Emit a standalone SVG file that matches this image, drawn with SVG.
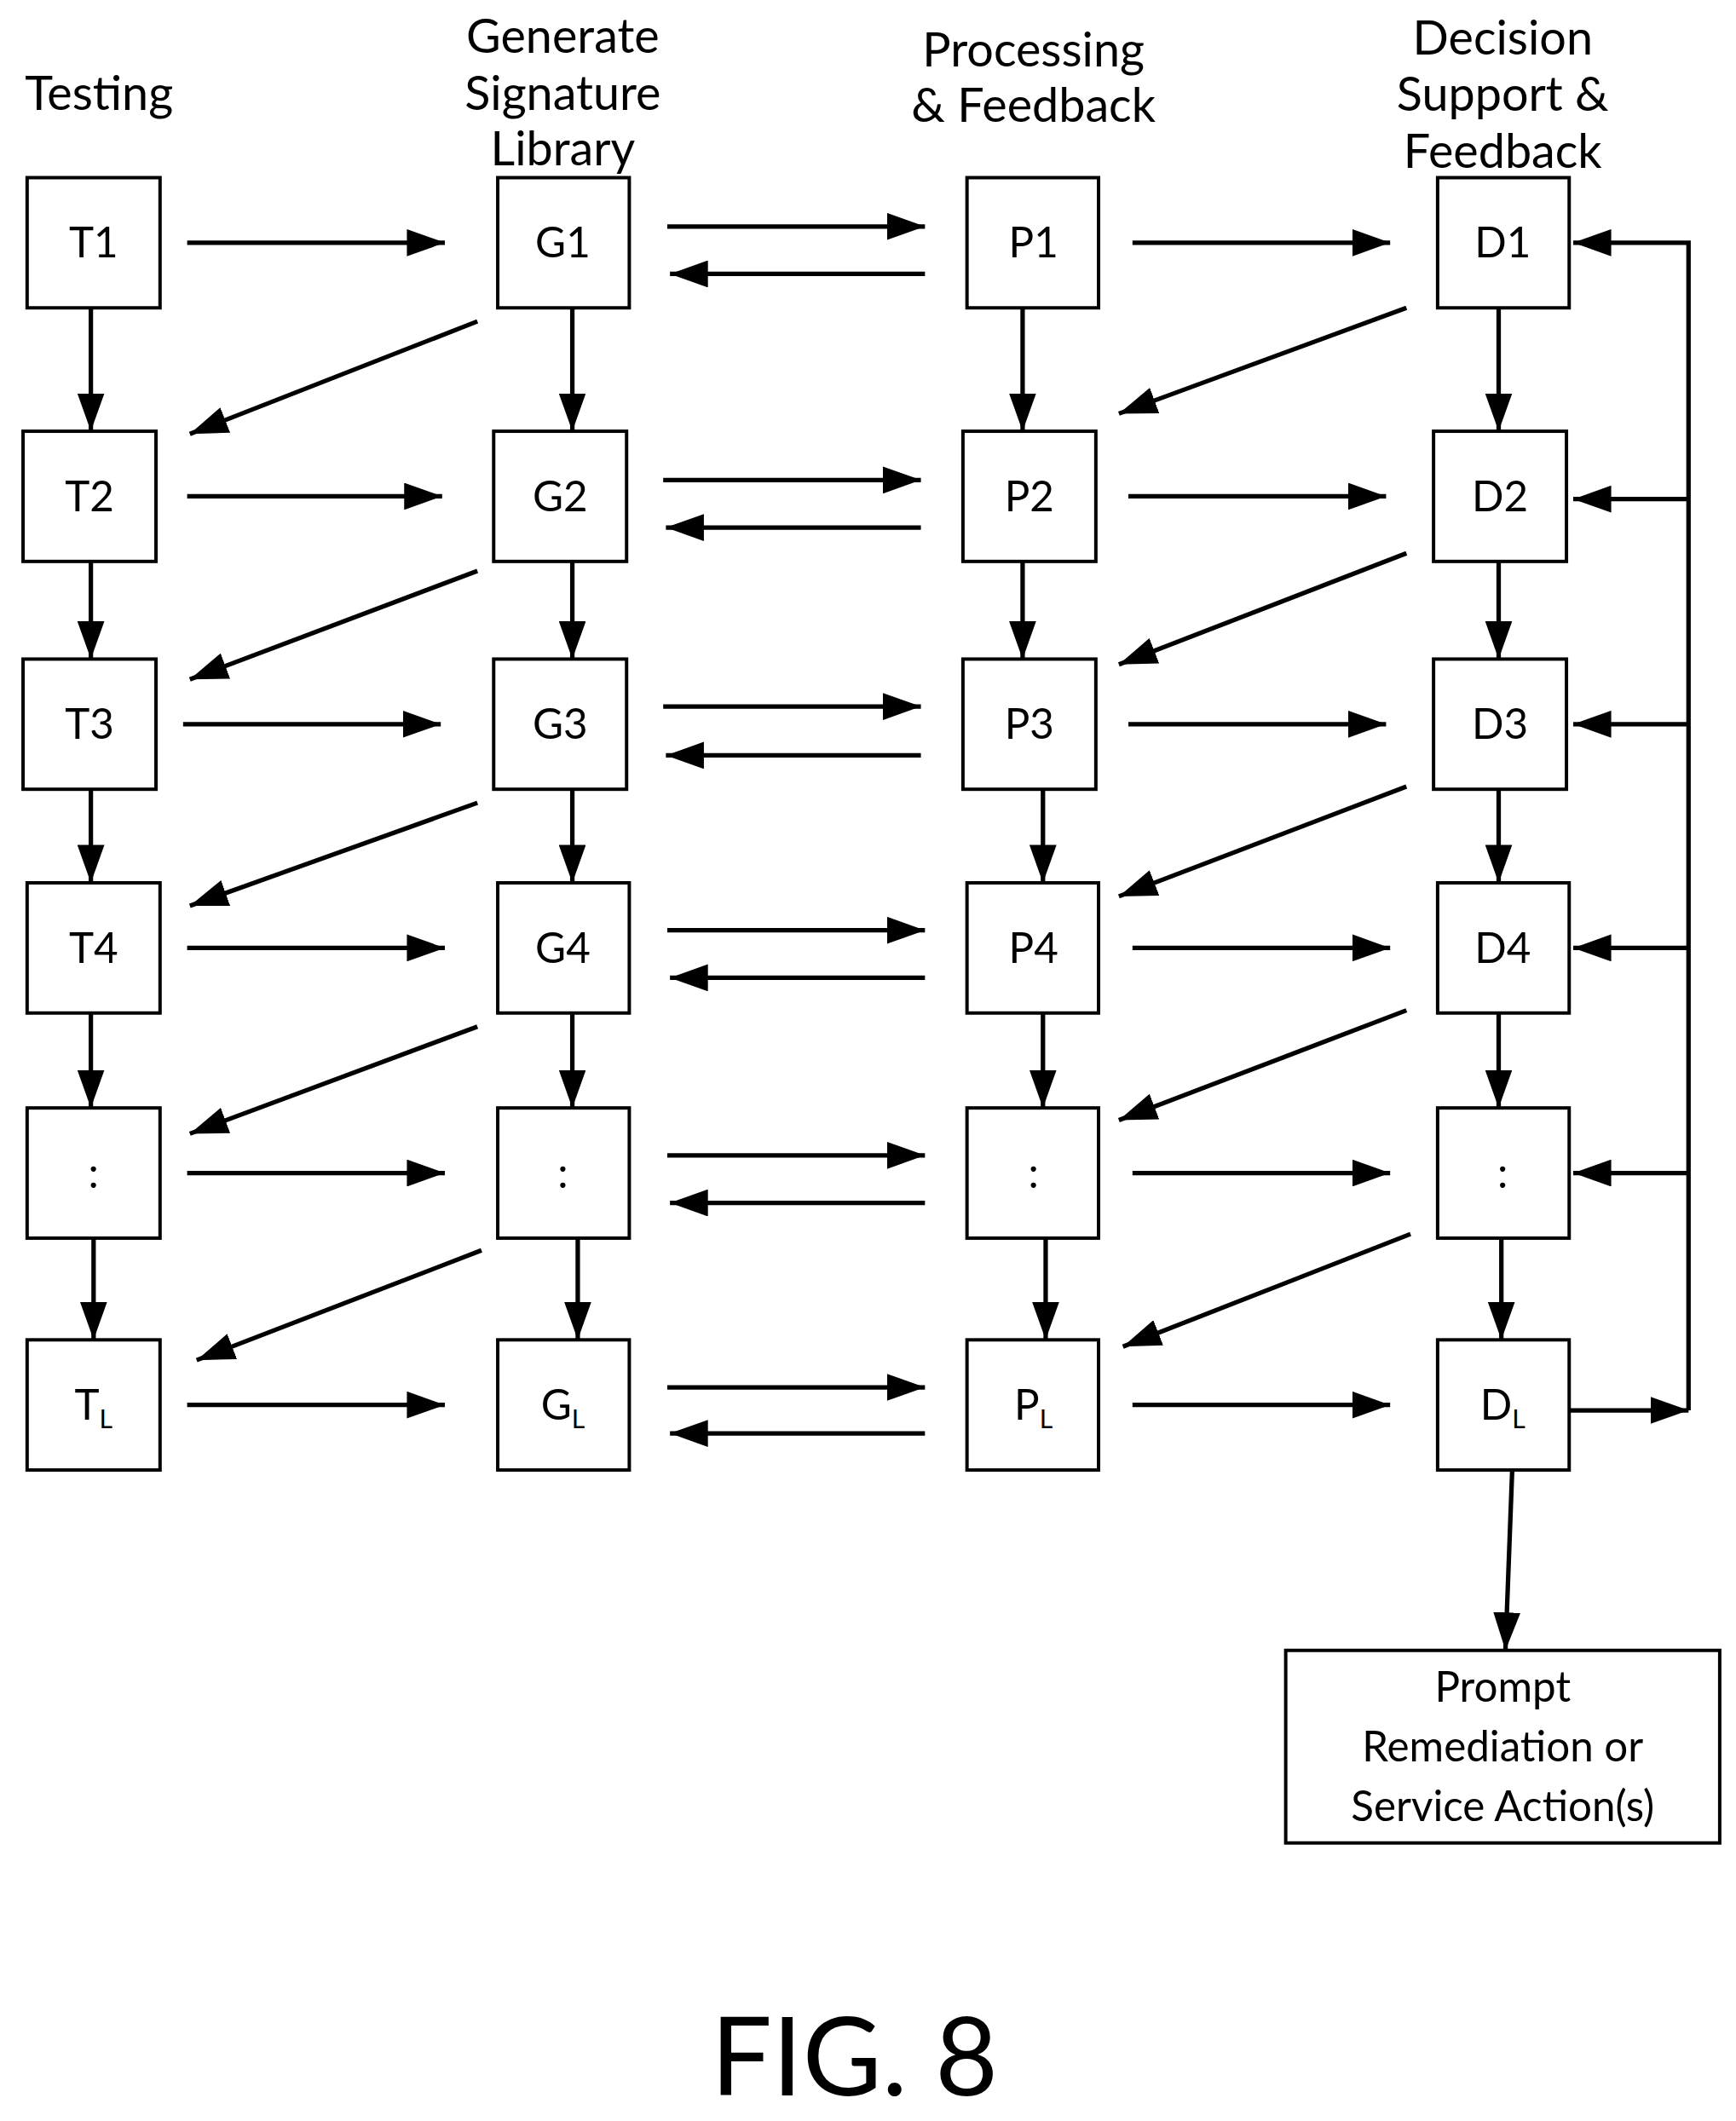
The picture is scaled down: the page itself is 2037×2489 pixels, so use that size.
<svg xmlns="http://www.w3.org/2000/svg" width="2037" height="2489" viewBox="0 0 2037 2489">
<defs>
<marker id="ah" markerUnits="userSpaceOnUse" markerWidth="30" markerHeight="20" refX="28" refY="10" orient="auto"><path d="M0,0 L28,10 L0,20 Z" fill="#000"/></marker>
<style>
.b{fill:#fff;stroke:#000;stroke-width:2.5}
.t{font-family:Lato,"Liberation Sans",sans-serif;fill:#000;text-anchor:middle}
.h{font-size:35px}
.n{font-size:31px}
.c line,.c path{stroke:#000;stroke-width:3.3;fill:none;marker-end:url(#ah)}
</style>
</defs>
<rect width="2037" height="2489" fill="#fff"/>
<g transform="scale(1.5914)">
<g id="headers" class="t h">
<text x="73" y="81">Testing</text>
<text x="415" y="39">Generate</text><text x="415" y="81">Signature</text><text x="415" y="122">Library</text>
<text x="762" y="49">Processing</text><text x="762" y="90">&amp; Feedback</text>
<text x="1108" y="40">Decision</text><text x="1108" y="82">Support &amp;</text><text x="1108" y="124">Feedback</text>
</g>
<g class="c" id="connectors">
<line x1="138" y1="179" x2="328" y2="179"/><line x1="138" y1="366" x2="326" y2="366"/><line x1="135" y1="534" x2="325" y2="534"/><line x1="138" y1="699" x2="328" y2="699"/><line x1="138" y1="865" x2="328" y2="865"/><line x1="138" y1="1036" x2="328" y2="1036"/>
<line x1="492" y1="167" x2="682" y2="167"/><line x1="682" y1="202" x2="494" y2="202"/>
<line x1="489" y1="354" x2="679" y2="354"/><line x1="679" y1="389" x2="491" y2="389"/>
<line x1="489" y1="521" x2="679" y2="521"/><line x1="679" y1="557" x2="491" y2="557"/>
<line x1="492" y1="686" x2="682" y2="686"/><line x1="682" y1="721" x2="494" y2="721"/>
<line x1="492" y1="852" x2="682" y2="852"/><line x1="682" y1="887" x2="494" y2="887"/>
<line x1="492" y1="1023" x2="682" y2="1023"/><line x1="682" y1="1057" x2="494" y2="1057"/>
<line x1="835" y1="179" x2="1025" y2="179"/><line x1="832" y1="366" x2="1022" y2="366"/><line x1="832" y1="534" x2="1022" y2="534"/><line x1="835" y1="699" x2="1025" y2="699"/><line x1="835" y1="865" x2="1025" y2="865"/><line x1="835" y1="1036" x2="1025" y2="1036"/>
<line x1="67" y1="227" x2="67" y2="318"/><line x1="67" y1="414" x2="67" y2="486"/><line x1="67" y1="582" x2="67" y2="651"/><line x1="67" y1="747" x2="67" y2="817"/><line x1="69" y1="913" x2="69" y2="988"/>
<line x1="422" y1="227" x2="422" y2="318"/><line x1="422" y1="414" x2="422" y2="486"/><line x1="422" y1="582" x2="422" y2="651"/><line x1="422" y1="747" x2="422" y2="817"/><line x1="426" y1="913" x2="426" y2="988"/>
<line x1="754" y1="227" x2="754" y2="318"/><line x1="754" y1="414" x2="754" y2="486"/><line x1="769" y1="582" x2="769" y2="651"/><line x1="769" y1="747" x2="769" y2="817"/><line x1="771" y1="913" x2="771" y2="988"/>
<line x1="1105" y1="227" x2="1105" y2="318"/><line x1="1105" y1="414" x2="1105" y2="486"/><line x1="1105" y1="582" x2="1105" y2="651"/><line x1="1105" y1="747" x2="1105" y2="817"/><line x1="1107" y1="913" x2="1107" y2="988"/>
<line x1="352" y1="237" x2="140" y2="320"/><line x1="352" y1="421" x2="140" y2="501"/><line x1="352" y1="592" x2="140" y2="668"/><line x1="352" y1="757" x2="140" y2="836"/><line x1="355" y1="922" x2="145" y2="1003"/>
<line x1="1037" y1="227" x2="825" y2="305"/><line x1="1037" y1="408" x2="825" y2="490"/><line x1="1037" y1="580" x2="825" y2="661"/><line x1="1037" y1="745" x2="825" y2="826"/><line x1="1040" y1="910" x2="828" y2="993"/>
<line x1="1157" y1="1040" x2="1245" y2="1040"/>
<path d="M1245,1040 L1245,179 L1160,179" />
<line x1="1245" y1="368" x2="1160" y2="368"/><line x1="1245" y1="534" x2="1160" y2="534"/><line x1="1245" y1="699" x2="1160" y2="699"/><line x1="1245" y1="865" x2="1160" y2="865"/>
<line x1="1115" y1="1084" x2="1110" y2="1217"/>
</g>
<g id="T1"><rect class="b" x="20" y="131" width="98" height="96"/><text class="t n" x="69" y="190">T1</text></g>
<g id="T2"><rect class="b" x="17" y="318" width="98" height="96"/><text class="t n" x="66" y="377">T2</text></g>
<g id="T3"><rect class="b" x="17" y="486" width="98" height="96"/><text class="t n" x="66" y="545">T3</text></g>
<g id="T4"><rect class="b" x="20" y="651" width="98" height="96"/><text class="t n" x="69" y="710">T4</text></g>
<g id="T5"><rect class="b" x="20" y="817" width="98" height="96"/><text class="t n" x="69" y="876">:</text></g>
<g id="TL"><rect class="b" x="20" y="988" width="98" height="96"/><text class="t n" x="69" y="1047">T<tspan font-size="19" dy="6">L</tspan></text></g>
<g id="G1"><rect class="b" x="367" y="131" width="97" height="96"/><text class="t n" x="415" y="190">G1</text></g>
<g id="G2"><rect class="b" x="364" y="318" width="98" height="96"/><text class="t n" x="413" y="377">G2</text></g>
<g id="G3"><rect class="b" x="364" y="486" width="98" height="96"/><text class="t n" x="413" y="545">G3</text></g>
<g id="G4"><rect class="b" x="367" y="651" width="97" height="96"/><text class="t n" x="415" y="710">G4</text></g>
<g id="G5"><rect class="b" x="367" y="817" width="97" height="96"/><text class="t n" x="415" y="876">:</text></g>
<g id="GL"><rect class="b" x="367" y="988" width="97" height="96"/><text class="t n" x="415" y="1047">G<tspan font-size="19" dy="6">L</tspan></text></g>
<g id="P1"><rect class="b" x="713" y="131" width="97" height="96"/><text class="t n" x="762" y="190">P1</text></g>
<g id="P2"><rect class="b" x="710" y="318" width="98" height="96"/><text class="t n" x="759" y="377">P2</text></g>
<g id="P3"><rect class="b" x="710" y="486" width="98" height="96"/><text class="t n" x="759" y="545">P3</text></g>
<g id="P4"><rect class="b" x="713" y="651" width="97" height="96"/><text class="t n" x="762" y="710">P4</text></g>
<g id="P5"><rect class="b" x="713" y="817" width="97" height="96"/><text class="t n" x="762" y="876">:</text></g>
<g id="PL"><rect class="b" x="713" y="988" width="97" height="96"/><text class="t n" x="762" y="1047">P<tspan font-size="19" dy="6">L</tspan></text></g>
<g id="D1"><rect class="b" x="1060" y="131" width="97" height="96"/><text class="t n" x="1108" y="190">D1</text></g>
<g id="D2"><rect class="b" x="1057" y="318" width="98" height="96"/><text class="t n" x="1106" y="377">D2</text></g>
<g id="D3"><rect class="b" x="1057" y="486" width="98" height="96"/><text class="t n" x="1106" y="545">D3</text></g>
<g id="D4"><rect class="b" x="1060" y="651" width="97" height="96"/><text class="t n" x="1108" y="710">D4</text></g>
<g id="D5"><rect class="b" x="1060" y="817" width="97" height="96"/><text class="t n" x="1108" y="876">:</text></g>
<g id="DL"><rect class="b" x="1060" y="988" width="97" height="96"/><text class="t n" x="1108" y="1047">D<tspan font-size="19" dy="6">L</tspan></text></g>
<g id="prompt"><rect class="b" x="948" y="1217" width="320" height="142"/>
<text class="t" font-size="31" x="1108" y="1255">Prompt</text><text class="t" font-size="31" x="1108" y="1299">Remediation or</text><text class="t" font-size="31" x="1108" y="1343">Service Action(s)</text></g>
<text id="fig" class="t" font-size="80" x="630" y="1545">FIG. 8</text>
</g>
</svg>
